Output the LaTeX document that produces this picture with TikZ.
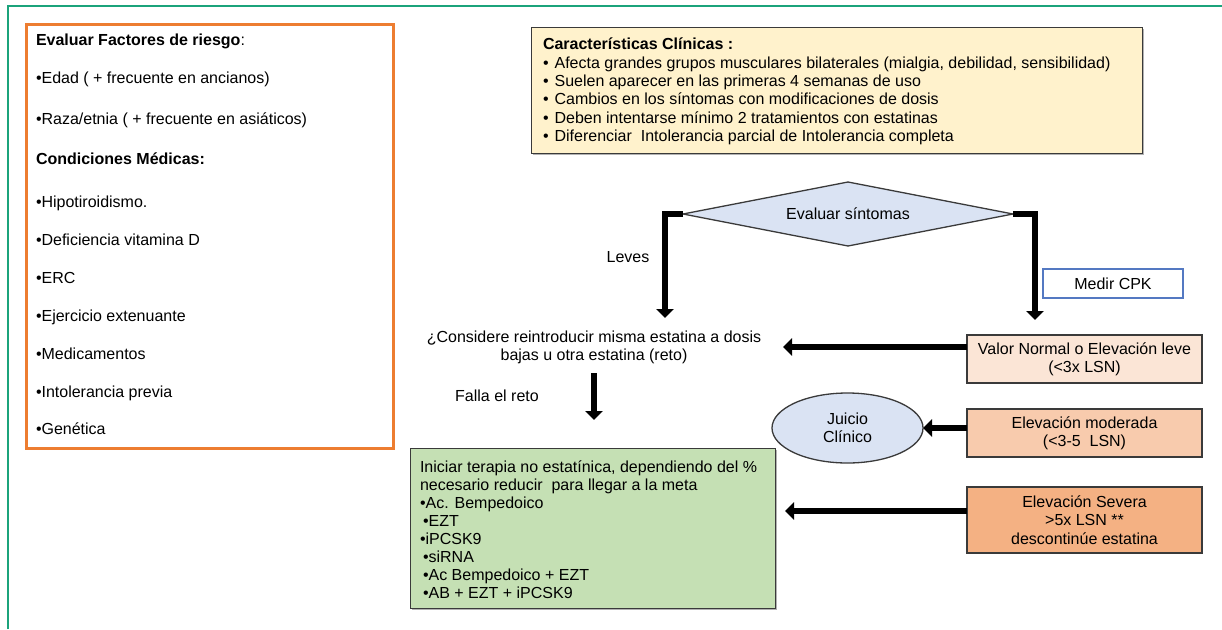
\documentclass[tikz,border=0pt]{standalone}
\usepackage{fontspec}
\setmainfont{Liberation Sans}
\usetikzlibrary{arrows.meta,shapes.geometric,shadows}
\definecolor{framegreen}{HTML}{1BA37B}
\definecolor{orangeline}{HTML}{ED7D31}
\definecolor{yellowfill}{HTML}{FFF2CC}
\definecolor{bluefill}{HTML}{DAE3F3}
\definecolor{cpkblue}{HTML}{5479C2}
\definecolor{peachA}{HTML}{FBE5D6}
\definecolor{peachB}{HTML}{F8CBAD}
\definecolor{peachC}{HTML}{F4B183}
\definecolor{greenfill}{HTML}{C5E0B4}
\definecolor{boxgray}{HTML}{3A3A3A}
\begin{document}
\begin{tikzpicture}[x=1pt,y=-1pt,
  txt/.style={font=\fontsize{16}{18.4}\selectfont, inner sep=0pt, outer sep=0pt},
  ltxt/.style={txt, anchor=base west},
  softshadow/.style={drop shadow={shadow xshift=1.3pt, shadow yshift=-1.3pt, fill=black!30, opacity=1}},
  boxed/.style={draw=boxgray, line width=1.3pt, txt, align=center, minimum width=235pt, softshadow},
  conn/.style={line width=6pt, line join=miter, -{Triangle[length=9pt,width=17pt]}},
]
\useasboundingbox (0,0) rectangle (1222,629);
% frame
\draw[framegreen, line width=1.5pt] (8,629) -- (8,6) -- (1222,6);
% left risk box
\node[draw=orangeline, line width=3pt, minimum width=367pt, minimum height=424pt, anchor=north west, inner sep=0pt] (risk) at (25,23) {};
\node[ltxt] (l1) at (36,45) {\textbf{Evaluar Factores de riesgo}:};
\node[ltxt] (l2) at (36,83) {•Edad ( + frecuente en ancianos)};
\node[ltxt] (l3) at (36,124) {•Raza/etnia ( + frecuente en asiáticos)};
\node[ltxt] (l4) at (36,164) {\textbf{Condiciones Médicas:}};
\node[ltxt] (l5) at (36,207) {•Hipotiroidismo.};
\node[ltxt] (l6) at (36,245) {•Deficiencia vitamina D};
\node[ltxt] (l7) at (36,283) {•ERC};
\node[ltxt] (l8) at (36,321) {•Ejercicio extenuante};
\node[ltxt] (l9) at (36,359) {•Medicamentos};
\node[ltxt] (l10) at (36,397) {•Intolerancia previa};
\node[ltxt] (l11) at (36,434) {•Genética};
% clinical characteristics box
\node[draw=boxgray, fill=yellowfill, line width=1.3pt, minimum width=611pt, minimum height=126pt, anchor=north west, inner sep=0pt, softshadow] (clin) at (531,27) {};
\node[ltxt] (c0) at (543,49) {\textbf{Características Clínicas :}};
\node[ltxt] (c1) at (543,68) {•\hspace{6pt}Afecta grandes grupos musculares bilaterales (mialgia, debilidad, sensibilidad)};
\node[ltxt] (c2) at (543,86) {•\hspace{6pt}Suelen aparecer en las primeras 4 semanas de uso};
\node[ltxt] (c3) at (543,104) {•\hspace{6pt}Cambios en los síntomas con modificaciones de dosis};
\node[ltxt] (c4) at (543,123) {•\hspace{6pt}Deben intentarse mínimo 2 tratamientos con estatinas};
\node[ltxt] (c5) at (543,141) {•\hspace{6pt}Diferenciar\ \ Intolerancia parcial de Intolerancia completa};
% diamond
\node[diamond, draw=boxgray, fill=bluefill, line width=1.3pt, txt, minimum width=330pt, minimum height=64pt, aspect=5.1] (dia) at (848,214) {Evaluar síntomas};
% text nodes left branch
\node[txt] (leves) at (628,257) {Leves};
\node[txt, align=center] (cons) at (594,347.5) {¿Considere reintroducir misma estatina a dosis\\bajas u otra estatina (reto)};
\node[txt] (falla) at (497,396) {Falla el reto};
% right branch boxes
\node[draw=cpkblue, line width=1.2pt, fill=white, txt, minimum width=140pt, minimum height=29pt] (cpk) at (1113,283.5) {Medir CPK};
\node[boxed, fill=peachA, minimum height=48pt] (valor) at (1084.5,359) {Valor Normal o Elevación leve\\(<3x LSN)};
\node[boxed, fill=peachB, minimum height=48pt] (mod) at (1084.5,433) {Elevación moderada\\(<3-5\ \ LSN)};
\node[boxed, fill=peachC, minimum height=66pt] (sev) at (1084.5,520) {Elevación Severa\\>5x LSN **\\descontinúe estatina};
% ellipse
\node[ellipse, draw=boxgray, fill=bluefill, line width=1.3pt, txt, align=center, minimum width=151pt, minimum height=70pt] (jc) at (847.5,428) {Juicio\\Clínico};
% green box
\node[draw=boxgray, fill=greenfill, line width=1.3pt, minimum width=365pt, minimum height=160pt, anchor=north west, inner sep=0pt, softshadow] (green) at (410,448) {};
\node[ltxt] (g1) at (420,472) {Iniciar terapia no estatínica, dependiendo del \%};
\node[ltxt] (g2) at (420,490) {necesario reducir\ \ para llegar a la meta};
\node[ltxt] (g3) at (420,508) {•Ac. Bempedoico};
\node[ltxt] (g4) at (423,526) {•EZT};
\node[ltxt] (g5) at (420,544) {•iPCSK9};
\node[ltxt] (g6) at (423,562) {•siRNA};
\node[ltxt] (g7) at (423,580) {•Ac Bempedoico + EZT};
\node[ltxt] (g8) at (423,598) {•AB + EZT + iPCSK9};
% connector end points
\coordinate (tipL) at (665,318);
\coordinate (tipR) at (1035,320);
\coordinate (tipV) at (783,347);
\coordinate (fallaTop) at (594,373);
\coordinate (fallaTip) at (594,420);
\coordinate (tipS) at (785,511);
% connectors
\draw[conn] (dia.west) -| (tipL);
\draw[conn] (dia.east) -| (tipR);
\draw[conn] ([yshift=12pt]valor.west) -- (tipV);
\draw[conn] (fallaTop) -- (fallaTip);
\draw[conn] ([yshift=5pt]mod.west) -- (jc.east);
\draw[conn] ([yshift=9pt]sev.west) -- (tipS);
\end{tikzpicture}
\end{document}
